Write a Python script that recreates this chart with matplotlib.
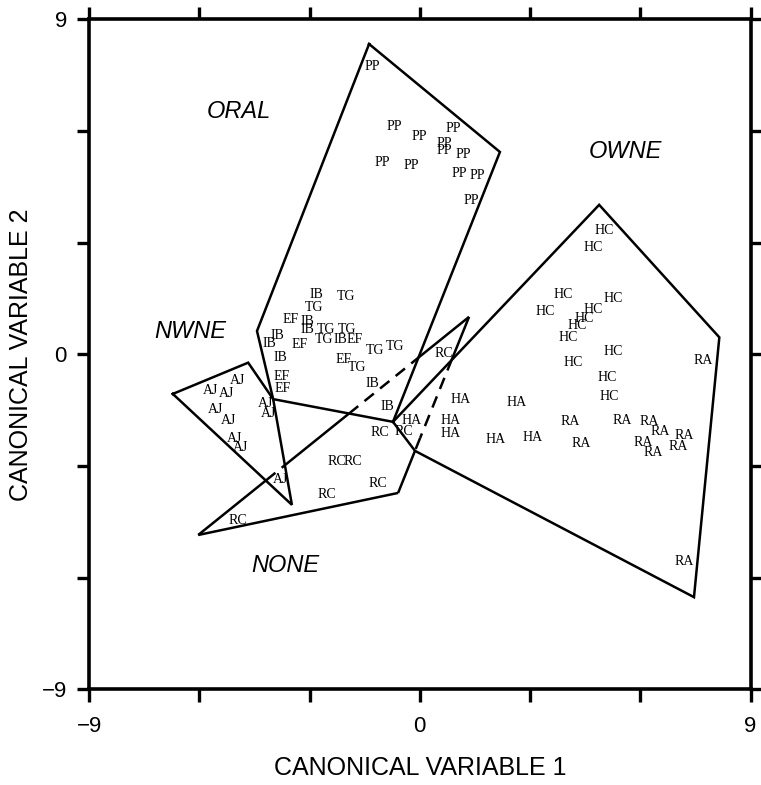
import numpy as np
import matplotlib
matplotlib.use("Agg")
import matplotlib.pyplot as plt
from matplotlib.path import Path

# ----------------
# Données
# ----------------

pp_x = [-1.28, -0.70, -0.02, 0.91, 0.66, 0.66, 1.17, -1.01, -0.22, 1.08, 1.57, 1.41]
pp_y = [7.73, 6.12, 5.85, 6.08, 5.68, 5.47, 5.36, 5.15, 5.09, 4.87, 4.82, 4.13]

ib_x = [-2.82, -3.06, -3.06, -2.15, -3.88, -4.09, -3.80, -1.28, -0.88]
ib_y = [1.60, 0.88, 0.68, 0.41, 0.50, 0.30, -0.08, -0.77, -1.40]

tg_x = [-2.01, -2.88, -2.55, -1.97, -2.61, -1.22, -0.67, -1.70]
tg_y = [1.55, 1.27, 0.66, 0.66, 0.41, 0.10, 0.21, -0.34]

ef_x = [-3.51, -1.76, -3.28, -2.08, -3.76, -3.73]
ef_y = [0.93, 0.41, 0.26, -0.13, -0.58, -0.91]

aj_x = [-4.96, -5.69, -5.27, -5.57, -4.21, -4.12, -5.21, -5.03, -4.89, -3.80]
aj_y = [-0.69, -0.97, -1.04, -1.47, -1.31, -1.58, -1.78, -2.25, -2.49, -3.37]

rc_x = [0.66, -1.10, -0.43, -2.26, -1.81, -1.13, -2.53, -4.96]
rc_y = [0.03, -2.10, -2.06, -2.88, -2.88, -3.48, -3.77, -4.45]

ha_x = [-0.22, 1.11, 2.64, 0.84, 0.84, 2.05, 3.07]
ha_y = [-1.78, -1.20, -1.30, -1.78, -2.12, -2.28, -2.24]

hc_x = [5.01, 4.71, 3.89, 5.25, 3.41, 4.72, 4.47, 4.27, 4.04, 5.27, 4.18, 5.09, 5.16]
hc_y = [3.34, 2.87, 1.60, 1.51, 1.15, 1.21, 0.97, 0.79, 0.45, 0.08, -0.21, -0.61, -1.13]

ra_x = [7.70, 4.09, 5.51, 6.25, 6.54, 7.19, 4.38, 6.08, 6.36, 7.04, 7.19]
ra_y = [-0.17, -1.81, -1.78, -1.79, -2.06, -2.19, -2.40, -2.37, -2.63, -2.48, -5.57]

# enveloppes des groupes
oral_hull_x = [-1.38, 2.18, -0.73, -3.99, -4.43]
oral_hull_y = [8.34, 5.44, -1.81, -1.20, 0.63]
nwne_hull_x = [-6.72, -4.67, -3.99, -3.48]
nwne_hull_y = [-1.06, -0.22, -1.20, -4.04]
none_hull_x = [-6.03, 1.34, 0.01, -0.59]
none_hull_y = [-4.85, 1.01, -2.24, -3.72]
owne_hull_x = [-0.73, 4.88, 8.15, 7.46, -0.13]
owne_hull_y = [-1.81, 4.02, 0.46, -6.52, -2.59]

zone_names = ["ORAL", "OWNE", "NWNE", "NONE"]
zone_x = [-4.92, 5.59, -6.25, -3.67]
zone_y = [6.54, 5.44, 0.63, -5.66]

groups = [("PP", pp_x, pp_y), ("IB", ib_x, ib_y), ("TG", tg_x, tg_y),
          ("EF", ef_x, ef_y), ("AJ", aj_x, aj_y), ("RC", rc_x, rc_y),
          ("HA", ha_x, ha_y), ("HC", hc_x, hc_y), ("RA", ra_x, ra_y)]

# ----------------
# Figure
# ----------------

fig = plt.figure(figsize=(7.61, 7.85), dpi=100)
ax = fig.add_axes([0.117, 0.1217, 0.8693, 0.8535])
ax.set_xlim(-9, 9)
ax.set_ylim(-9, 9)

LW = 1.8

def closed(xs, ys):
    return np.array(list(zip(xs, ys)) + [(xs[0], ys[0])])

oral = closed(oral_hull_x, oral_hull_y)
nwne = closed(nwne_hull_x, nwne_hull_y)
none = closed(none_hull_x, none_hull_y)
owne = closed(owne_hull_x, owne_hull_y)

for poly in [oral, nwne, owne]:
    ax.plot(poly[:, 0], poly[:, 1], color="black", lw=LW, solid_joinstyle="miter")

# NONE : pointillés là où le contour passe dans un autre groupe
others = [Path(oral), Path(nwne), Path(owne)]
for a, b in zip(none[:-1], none[1:]):
    t = np.linspace(0, 1, 400)
    pts = a + np.outer(t, b - a)
    inside = np.zeros(len(t), dtype=bool)
    for p in others:
        inside |= p.contains_points(pts, radius=-0.02)
    start = 0
    for i in range(1, len(t) + 1):
        if i == len(t) or inside[i] != inside[start]:
            seg = pts[start:min(i + 1, len(t))]
            ls = (0, (4.8, 3.2)) if inside[start] else "-"
            ax.plot(seg[:, 0], seg[:, 1], color="black", lw=LW, linestyle=ls,
                    solid_capstyle="butt", dash_capstyle="butt")
            start = i

for name, xs, ys in groups:
    for x, y in zip(xs, ys):
        ax.text(x, y, name, ha="center", va="center", fontsize=10,
                family="Liberation Serif")

for name, x, y in zip(zone_names, zone_x, zone_y):
    ax.text(x, y, name, ha="center", va="center", fontsize=17,
            style="italic", family="Liberation Sans")

for side in ["left", "right", "top", "bottom"]:
    ax.spines[side].set_linewidth(2.6)

ticks = [-9, -6, -3, 0, 3, 6, 9]
labels = ["\u22129", "", "", "0", "", "", "9"]
ax.set_xticks(ticks)
ax.set_yticks(ticks)
ax.set_xticklabels(labels, fontsize=16, family="Liberation Sans")
ax.set_yticklabels(labels, fontsize=16, family="Liberation Sans")
ax.tick_params(direction="out", length=9, width=2.4, top=True, right=True)
ax.tick_params(axis="x", pad=10)
ax.tick_params(axis="y", pad=7)

ax.set_xlabel("CANONICAL VARIABLE 1", fontsize=18, family="Liberation Sans", labelpad=14)
ax.set_ylabel("CANONICAL VARIABLE 2", fontsize=18, family="Liberation Sans", labelpad=6)

fig.savefig("out.png", dpi=100)
